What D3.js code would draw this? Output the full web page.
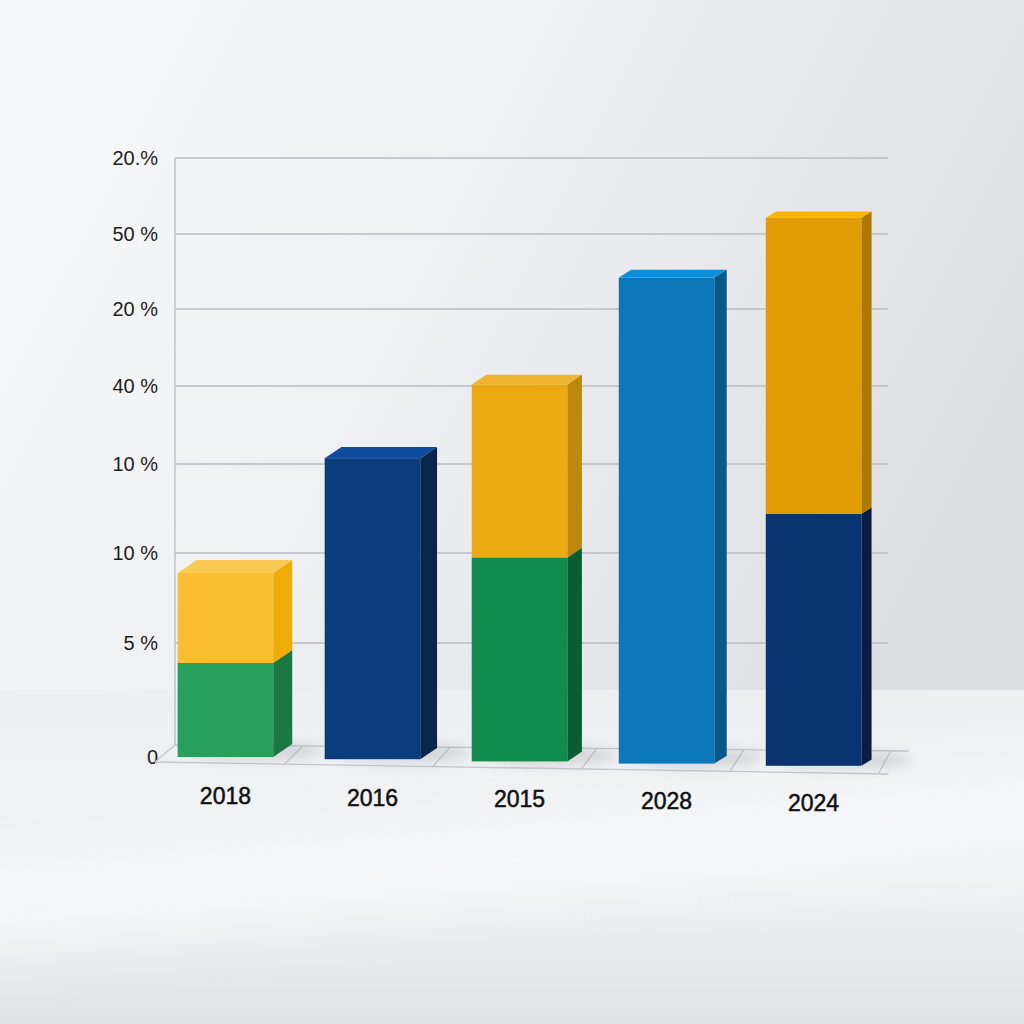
<!DOCTYPE html>
<html>
<head>
<meta charset="utf-8">
<script src="https://cdn.jsdelivr.net/npm/d3@7"></script>
<style>
  html, body { margin: 0; padding: 0; background: #eef0f2; }
  svg { display: block; }
  .tick-label { font-family: 'Liberation Sans', Arial, sans-serif; font-size: 20px; fill: #1e1e1e; }
  .year-label { font-family: 'Liberation Sans Narrow', 'Liberation Sans', Arial, sans-serif; font-size: 23px; fill: #111; stroke: #111; stroke-width: 0.5px; }
</style>
</head>
<body>
<div id="vis"></div>
<script>
// 3D-looking stacked bar chart

/* *************************** Data ***************************** */
var years = ['2018', '2016', '2015', '2028', '2024'];

// bottom segment and top segment (same units as the y scale), null = no segment
var bottomValues = [9.4, 30.1, 20.4, 48.6, 25.2];
var topValues = [9.0, null, 17.3, null, 29.6];
var bottomColors = ['#27a05c', '#0b3c7c', '#0f8b4c', '#0b78b9', '#0a3470'];
var topColors = ['#f9bf30', null, '#eca912', null, '#e09c02'];

// y axis labels as printed, and where they sit in data units
var tickLabels = ['0', '5 %', '10 %', '10 %', '40 %', '20 %', '50 %', '20.%'];
var tickValues = [0, 11.4, 20.4, 29.3, 37.1, 44.8, 52.3, 59.9];

/* *************************** Settings ***************************** */
var width = 1024;
var height = 1024;
var baseY = 757;
var topY = 158;

var svg = d3.select('#vis')
    .append('svg')
    .attr('width', width)
    .attr('height', height);

var defs = svg.append('defs');

// background gradient: bright on the upper left, greyer to the right
var bg = defs.append('linearGradient')
    .attr('id', 'bg')
    .attr('x1', '0').attr('y1', '0').attr('x2', '1').attr('y2', '0.5');
bg.append('stop').attr('offset', '0').attr('stop-color', '#f7f8f9');
bg.append('stop').attr('offset', '0.45').attr('stop-color', '#eff0f2');
bg.append('stop').attr('offset', '1').attr('stop-color', '#dbdde1');

var floor = defs.append('linearGradient')
    .attr('id', 'floor')
    .attr('x1', '0').attr('y1', '0').attr('x2', '0').attr('y2', '1');
floor.append('stop').attr('offset', '0').attr('stop-color', '#eeeff1');
floor.append('stop').attr('offset', '0.55').attr('stop-color', '#f1f2f4');
floor.append('stop').attr('offset', '1').attr('stop-color', '#e0e2e6');

var blur = defs.append('filter').attr('id', 'blur').attr('x', '-20%').attr('y', '-50%').attr('width', '140%').attr('height', '200%');
blur.append('feGaussianBlur').attr('stdDeviation', 30);
var blurS = defs.append('filter').attr('id', 'blurS').attr('x', '-50%').attr('y', '-100%').attr('width', '200%').attr('height', '300%');
blurS.append('feGaussianBlur').attr('stdDeviation', 6);

svg.append('rect').attr('width', width).attr('height', height).attr('fill', 'url(#bg)');
svg.append('rect').attr('y', 690).attr('width', width).attr('height', height - 690).attr('fill', 'url(#floor)');

// soft diagonal light streak on the floor
svg.append('path')
    .attr('d', 'M-60,880 L1100,770 L1100,830 L-60,960 Z')
    .attr('fill', '#ffffff')
    .attr('opacity', 0.55)
    .attr('filter', 'url(#blur)');

/* *************************** Scales ***************************** */
var xScale = d3.scaleBand()
    .domain(years)
    .range([160, 879])
    .paddingInner(0.35)
    .paddingOuter(0.12);

var yScale = d3.scaleLinear()
    .domain([0, 59.9])
    .range([baseY, topY]);

// slight perspective: bars further right sit a bit lower and show less depth
var base = function(i) { return i * 2.2; };
var depthX = function(i) { return 19 - i * 2.2; };
var depthY = function(i) { return -13 + i * 1.7; };

/* *************************** Grid and axis ***************************** */
var g = svg.append('g');

g.selectAll('.grid')
    .data(tickValues.slice(1))
    .enter().append('line')
    .attr('class', 'grid')
    .attr('x1', 175)
    .attr('x2', 888)
    .attr('y1', function(d) { return yScale(d); })
    .attr('y2', function(d) { return yScale(d); })
    .attr('stroke', '#b9bcc0')
    .attr('stroke-width', 1.3);

g.append('line')
    .attr('x1', 175).attr('x2', 175)
    .attr('y1', yScale(59.9)).attr('y2', baseY - 12)
    .attr('stroke', '#b9bcc0')
    .attr('stroke-width', 1.3);

g.selectAll('.tick-label')
    .data(tickLabels)
    .enter().append('text')
    .attr('class', 'tick-label')
    .attr('x', 158)
    .attr('y', function(d, i) { return yScale(tickValues[i]); })
    .attr('dy', '0.35em')
    .attr('text-anchor', 'end')
    .text(function(d) { return d; });

// floor grid: a thin parallelogram under the bars with slanted dividers
var step = xScale.step();
var floorLeft = xScale(years[0]) - step * 0.12 + 15;
var floorRight = xScale(years[years.length - 1]) + xScale.bandwidth() + step * 0.24;
var floorG = svg.append('g').attr('fill', 'none').attr('stroke', '#c3c6ca').attr('stroke-width', 1.3);
floorG.append('line')
    .attr('x1', floorLeft - 20).attr('y1', baseY + 5)
    .attr('x2', floorRight - 8).attr('y2', baseY + 17);
floorG.append('line')
    .attr('x1', floorLeft).attr('y1', baseY - 12)
    .attr('x2', floorRight + 12).attr('y2', baseY - 6);
var dividers = [floorLeft].concat(years.map(function(d) { return xScale(d) + xScale.bandwidth() + step * 0.2; }));
floorG.selectAll('.div')
    .data(dividers)
    .enter().append('line')
    .attr('x1', function(d, i) { return d - 20 + i * 1.5; })
    .attr('y1', function(d, i) { return baseY + 5 + i * 2.4; })
    .attr('x2', function(d) { return d; })
    .attr('y2', function(d, i) { return baseY - 12 + i * 1.2; });

/* *************************** Bars ***************************** */
function shade(c, k) {
    var col = d3.hsl(c);
    col.l = Math.max(0, Math.min(1, col.l + k));
    return col.formatHex();
}

// build a list of segments from the named arrays
var segments = [];
years.forEach(function(y, i) {
    segments.push({ i: i, year: y, y0: 0, y1: bottomValues[i], color: bottomColors[i], isTop: topValues[i] == null });
    if (topValues[i] != null) {
        segments.push({ i: i, year: y, y0: bottomValues[i], y1: bottomValues[i] + topValues[i], color: topColors[i], isTop: true });
    }
});

// soft shadows on the floor
svg.append('g').selectAll('ellipse')
    .data(years)
    .enter().append('ellipse')
    .attr('cx', function(d) { return xScale(d) + xScale.bandwidth() / 2 + 30; })
    .attr('cy', function(d, i) { return baseY - 6 + base(i); })
    .attr('rx', xScale.bandwidth() * 0.7)
    .attr('ry', 9)
    .attr('fill', '#8e949c')
    .attr('opacity', 0.3)
    .attr('filter', 'url(#blurS)');

var bars = svg.append('g').selectAll('g')
    .data(segments)
    .enter().append('g');

// side face
bars.append('path')
    .attr('d', function(d) {
        var x = xScale(d.year) + xScale.bandwidth();
        var yt = yScale(d.y1) + base(d.i), yb = yScale(d.y0) + base(d.i);
        var dx = depthX(d.i), dy = depthY(d.i);
        return 'M' + x + ',' + yt + 'L' + (x + dx) + ',' + (yt + dy) +
            'L' + (x + dx) + ',' + (yb + dy) + 'L' + x + ',' + yb + 'Z';
    })
    .attr('fill', function(d) { return shade(d.color, -0.1); });

// top face (only on the highest segment of each bar)
bars.filter(function(d) { return d.isTop; })
    .append('path')
    .attr('d', function(d) {
        var x = xScale(d.year), w = xScale.bandwidth();
        var yt = yScale(d.y1) + base(d.i);
        var dx = depthX(d.i), dy = depthY(d.i);
        return 'M' + x + ',' + yt + 'L' + (x + dx) + ',' + (yt + dy) +
            'L' + (x + w + dx) + ',' + (yt + dy) + 'L' + (x + w) + ',' + yt + 'Z';
    })
    .attr('fill', function(d) { return shade(d.color, 0.07); });

// front face
bars.append('rect')
    .attr('x', function(d) { return xScale(d.year); })
    .attr('y', function(d) { return yScale(d.y1) + base(d.i); })
    .attr('width', xScale.bandwidth())
    .attr('height', function(d) { return yScale(d.y0) - yScale(d.y1); })
    .attr('fill', function(d) { return d.color; });

/* *************************** Year labels ***************************** */
svg.append('g').selectAll('text')
    .data(years)
    .enter().append('text')
    .attr('class', 'year-label')
    .attr('x', function(d) { return xScale(d) + xScale.bandwidth() / 2; })
    .attr('y', function(d, i) { return 804 + i * 1.7; })
    .attr('text-anchor', 'middle')
    .text(function(d) { return d; });
</script>
</body>
</html>
